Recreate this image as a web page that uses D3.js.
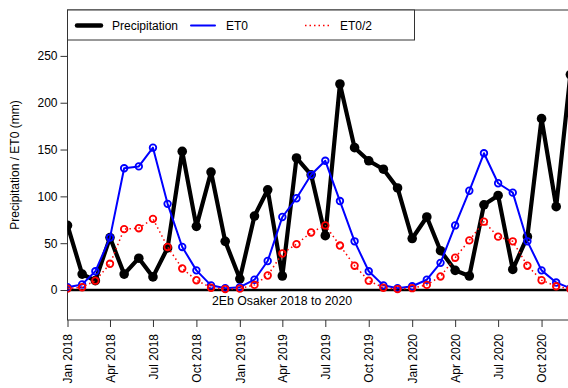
<!DOCTYPE html>
<meta charset="utf-8">
<style>
    body { margin: 0; background: #fff; }
    svg { display: block; font-family: "Liberation Sans", Arial, sans-serif; }
    .axis text { font-size: 12px; fill: #000; }
    .axis path, .axis line { stroke: #333; }
</style>
<body>
<svg width="568" height="388"></svg>
<script src="https://cdn.jsdelivr.net/npm/d3@7"></script>
<script>
    // monthly values, Jan 2018 .. Dec 2020
    var months = ["2018-01", "2018-02", "2018-03", "2018-04", "2018-05", "2018-06",
        "2018-07", "2018-08", "2018-09", "2018-10", "2018-11", "2018-12",
        "2019-01", "2019-02", "2019-03", "2019-04", "2019-05", "2019-06",
        "2019-07", "2019-08", "2019-09", "2019-10", "2019-11", "2019-12",
        "2020-01", "2020-02", "2020-03", "2020-04", "2020-05", "2020-06",
        "2020-07", "2020-08", "2020-09", "2020-10", "2020-11", "2020-12"];

    var precip = [69, 17, 10, 56, 17, 34, 14, 45, 148, 68, 126, 52,
        12, 79, 107, 15, 141, 123, 58, 220, 152, 138, 129, 109,
        55, 78, 42, 21, 15, 91, 101, 22, 57, 183, 89, 230];

    var et0 = [3, 6, 20, 56, 130, 132, 152, 92, 46, 21, 5, 2,
        3, 11, 31, 78, 98, 123, 138, 95, 52, 20, 5, 2,
        4, 11, 29, 69, 106, 146, 114, 104, 52, 21, 8, 2];

    var et0Half = [1.5, 3, 10, 28, 65, 66, 76, 46, 23, 10.5, 2.5, 1,
        1.5, 5.5, 15.5, 39, 49, 61.5, 69, 47.5, 26, 10, 2.5, 1,
        2, 5.5, 14.5, 34.5, 53, 73, 57, 52, 26, 10.5, 4, 1];

    var yTicks = [0, 50, 100, 150, 200, 250];
    var title = "2Eb Osaker 2018 to 2020";

    var svg = d3.select("svg");
    var mLeft = 67.5, mTop = 10, mBottom = 320, mRight = 585;

    var parseM = d3.timeParse("%Y-%m");
    var dates = months.map(parseM);

    var x = d3.scaleTime()
        .domain([new Date(2018, 0, 1), new Date(2021, 0, 1)])
        .range([mLeft, mRight]);
    var y = d3.scaleLinear().domain([-32, 299]).range([mBottom, mTop]);

    svg.append("defs").append("clipPath").attr("id", "clip")
        .append("rect")
        .attr("x", mLeft).attr("y", mTop)
        .attr("width", mRight - mLeft).attr("height", mBottom - mTop);

    // box
    svg.append("rect")
        .attr("x", mLeft).attr("y", mTop)
        .attr("width", mRight - mLeft).attr("height", mBottom - mTop)
        .attr("fill", "none").attr("stroke", "#333").attr("stroke-width", 1);

    // axes
    svg.append("g")
        .attr("class", "axis")
        .attr("transform", "translate(" + mLeft + ",0)")
        .call(d3.axisLeft(y).tickValues(yTicks).tickSize(7).tickPadding(3))
        .call(function (g) { g.select(".domain").remove(); });

    // quarterly ticks, last one Oct 2020
    var xTicks = d3.timeMonth.every(3).range(new Date(2018, 0, 1), new Date(2020, 11, 1));
    var xAxis = svg.append("g")
        .attr("class", "axis")
        .attr("transform", "translate(0," + mBottom + ")")
        .call(d3.axisBottom(x).tickValues(xTicks)
            .tickFormat(d3.timeFormat("%b %Y")).tickSize(7))
        .call(function (g) { g.select(".domain").remove(); });
    xAxis.selectAll("text")
        .attr("transform", "rotate(-90)")
        .attr("text-anchor", "end")
        .attr("x", -14).attr("y", 0).attr("dy", "0.35em");

    svg.append("text")
        .attr("transform", "translate(19," + ((mTop + mBottom) / 2) + ") rotate(-90)")
        .attr("text-anchor", "middle")
        .style("font-size", "12px")
        .text("Precipitation / ET0 (mm)");

    var plot = svg.append("g").attr("clip-path", "url(#clip)");

    // zero line
    plot.append("line")
        .attr("x1", mLeft).attr("x2", mRight)
        .attr("y1", y(0)).attr("y2", y(0))
        .attr("stroke", "#000").attr("stroke-width", 2.5);

    plot.append("text")
        .attr("x", 282).attr("y", 305)
        .attr("text-anchor", "middle")
        .style("font-size", "12.3px")
        .text(title);

    function series(vals, color, width, dash, filled, r) {
        var pts = vals.map(function (v, i) { return { date: dates[i], v: v }; });
        var line = d3.line()
            .x(function (d) { return x(d.date); })
            .y(function (d) { return y(d.v); });
        plot.append("path")
            .datum(pts)
            .attr("d", line)
            .attr("fill", "none")
            .attr("stroke", color)
            .attr("stroke-width", width)
            .attr("stroke-linejoin", "round")
            .attr("stroke-dasharray", dash);
        plot.selectAll(null)
            .data(pts)
            .enter().append("circle")
            .attr("cx", function (d) { return x(d.date); })
            .attr("cy", function (d) { return y(d.v); })
            .attr("r", r)
            .attr("fill", filled ? color : "none")
            .attr("stroke", color)
            .attr("stroke-width", filled ? 0 : 1.8);
    }

    series(precip, "#000", 4.2, null, true, 4.8);
    series(et0, "#0000ff", 2, null, false, 3.3);
    series(et0Half, "#ff0000", 1.5, "1.5,3", false, 3.3);

    // legend
    var leg = svg.append("g");
    leg.append("rect")
        .attr("x", mLeft).attr("y", mTop)
        .attr("width", 414.5 - mLeft).attr("height", 30)
        .attr("fill", "#fff").attr("stroke", "#333");
    var items = [
        { label: "Precipitation", color: "#000", w: 4.5, dash: null, x0: 77 },
        { label: "ET0", color: "#0000ff", w: 2, dash: null, x0: 191 },
        { label: "ET0/2", color: "#ff0000", w: 1.5, dash: "1.5,3", x0: 305 }
    ];
    items.forEach(function (it) {
        leg.append("line")
            .attr("x1", it.x0).attr("x2", it.x0 + 24)
            .attr("y1", 25.5).attr("y2", 25.5)
            .attr("stroke", it.color).attr("stroke-width", it.w)
            .attr("stroke-linecap", it.dash ? "butt" : "round")
            .attr("stroke-dasharray", it.dash);
        leg.append("text")
            .attr("x", it.x0 + 35).attr("y", 30)
            .style("font-size", "12px")
            .text(it.label);
    });
</script>
</body>
